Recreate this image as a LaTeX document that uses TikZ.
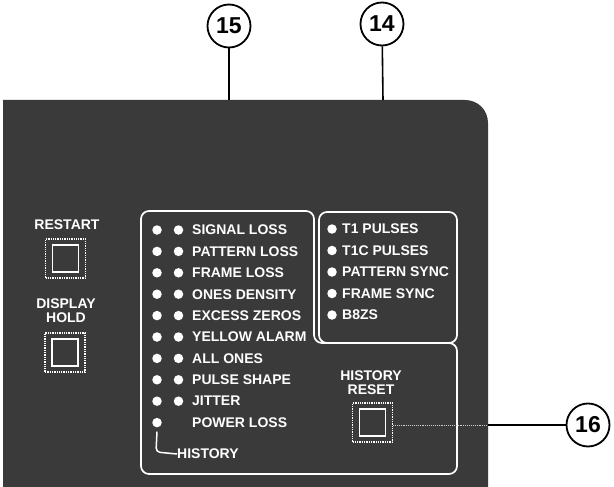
\documentclass[tikz,border=0pt]{standalone}
\usepackage{fontspec}
\setmainfont{Liberation Sans}
\definecolor{panelc}{RGB}{58,58,58}
\tikzset{
  callout/.style={draw=black, line width=1.8pt, circle, minimum size=43pt, inner sep=0pt, fill=white, font=\bfseries\fontsize{23}{23}\selectfont},
  leader/.style={draw=black, line width=1.6pt},
  leaderin/.style={draw=white!80!black, line width=0.9pt, densely dotted},
  frame/.style={draw=white, line width=1.7pt, rounded corners=8pt},
  lbl/.style={text=white, font=\bfseries\fontsize{14}{14}\selectfont, inner sep=0pt, anchor=west},
  clbl/.style={text=white, font=\bfseries\fontsize{14}{13.5}\selectfont, inner sep=0pt, align=center},
  led/.style={circle, fill=white, minimum size=9.5pt, inner sep=0pt},
  btnout/.style={draw=white, line width=1.3pt, densely dotted, minimum width=40pt, minimum height=39pt, inner sep=0pt},
  btnin/.style={draw=white, line width=1.3pt, minimum width=26pt, minimum height=27pt, inner sep=0pt},
}
\begin{document}
\begin{tikzpicture}[x=1pt,y=-1pt]
\useasboundingbox (0,0) rectangle (614,487);
% panel
\fill[panelc] (3,487) -- (3,100) -- (465,100) .. controls (478,100) and (488,110) .. (488,123) -- (488,487) -- cycle;
% callouts
\node[callout] (c15) at (229,26) {15};
\node[callout] (c14) at (382,24) {14};
\node[callout] (c16) at (588,425) {16};
\coordinate (p15) at (229,100);
\coordinate (p14) at (383,100);
\draw[leader] (c15) -- (p15);
\draw[leader] (c14) -- (p14);
% frames
\draw[frame] (141,211) -- (314,211) -- (314,343) -- (457,343) -- (457,474) -- (141,474) -- cycle;
\draw[frame] (319,212) rectangle (457,343);
% left buttons
\node[clbl] (trestart) at (67,225) {RESTART};
\node[btnout] (brestart) at (65.5,258.5) {};
\node[btnin] (brestarti) at (brestart) {};
\node[clbl] (tdisplay) at (66,310.5) {DISPLAY\\HOLD};
\node[btnout] (bhold) at (65,352.5) {};
\node[btnin] (bholdi) at (bhold) {};
% history leds
\foreach \t [count=\i] in {SIGNAL LOSS,PATTERN LOSS,FRAME LOSS,ONES DENSITY,EXCESS ZEROS,YELLOW ALARM,ALL ONES,PULSE SHAPE,JITTER,POWER LOSS}{
  \pgfmathsetmacro{\yy}{230+(\i-1)*21.4}
  \node[led] (la\i) at (157,\yy) {};
  \ifnum\i<10 \node[led] (lb\i) at (178.5,\yy) {};\fi
  \node[lbl] (tl\i) at (192,\yy) {\t};
}
\node[lbl] (thist) at (177,454) {HISTORY};
\draw[white, line width=1.5pt, rounded corners=4pt] (la10.south) ++(0,4) -- (156,452) -- (thist.west);
% status leds
\foreach \t [count=\i] in {T1 PULSES,T1C PULSES,PATTERN SYNC,FRAME SYNC,B8ZS}{
  \pgfmathsetmacro{\yy}{229+(\i-1)*21.5}
  \node[led] (ls\i) at (332,\yy) {};
  \node[lbl] (ts\i) at (342,\yy) {\t};
}
% history reset
\node[clbl] (threset) at (371,382.5) {HISTORY\\RESET};
\node[btnout] (breset) at (372.5,422.5) {};
\node[btnin] (breseti) at (breset) {};
\coordinate (s16) at (393,425);
\coordinate (e16) at (488,425);
\draw[leaderin] (s16) -- (e16);
\draw[leader] (e16) -- (c16);
\end{tikzpicture}
\end{document}
